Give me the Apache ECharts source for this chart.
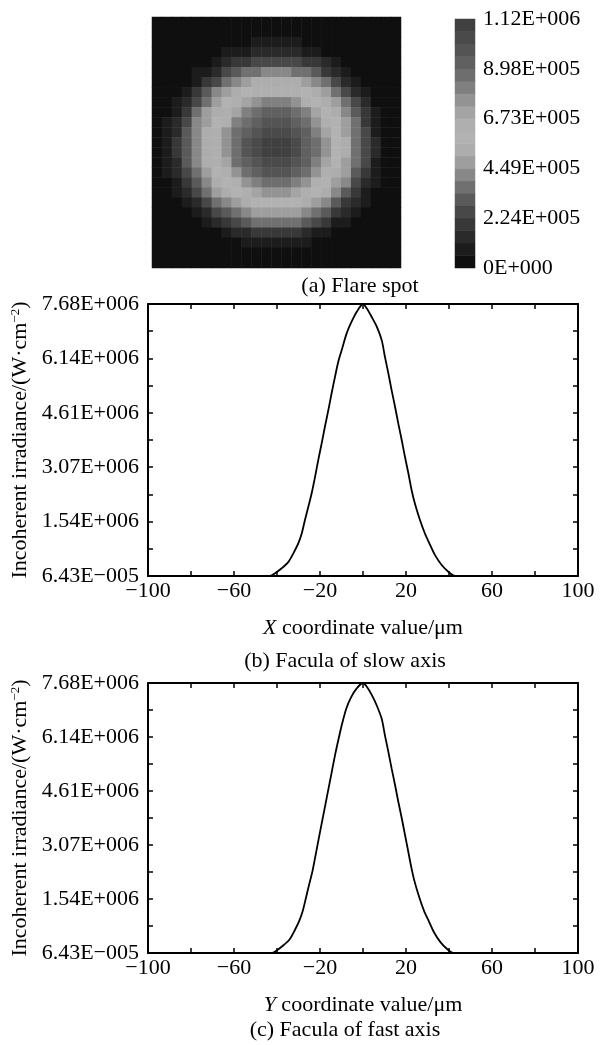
<!DOCTYPE html>
<html>
<head>
<meta charset="utf-8">
<style>
html, body { margin: 0; padding: 0; background: #fff; }
#main { width: 608px; height: 1045px; }
</style>
<script src="https://cdn.jsdelivr.net/npm/echarts@6/dist/echarts.min.js"></script>
</head>
<body>
<div id="main"></div>
<script>
// (a) flare spot, irradiance in 1E+004 W/cm2, rows from top to bottom
var spotRows = [
  [0,0,0,0,0,0,0,1,1,1,1,1,1,1,1,1,1,1,0,0,0,0,0,0,0],
  [0,0,0,0,0,0,1,1,2,2,3,3,3,3,3,2,2,1,1,0,0,0,0,0,0],
  [0,0,0,0,1,1,2,3,4,5,6,7,7,7,6,5,4,3,2,1,1,0,0,0,0],
  [0,0,0,1,2,3,3,6,8,11,14,15,16,15,14,10,8,5,3,2,1,1,0,0,0],
  [0,0,1,2,3,5,8,13,18,22,25,27,27,27,25,21,17,12,8,4,3,1,1,0,0],
  [0,1,2,3,6,10,16,23,30,35,38,40,41,40,38,34,28,22,15,9,4,2,1,0,0],
  [1,1,3,5,11,19,27,35,42,48,52,54,54,54,51,47,41,34,25,16,9,4,2,1,0],
  [1,2,5,10,20,30,40,48,54,59,63,65,66,65,63,59,53,46,37,27,16,8,3,2,1],
  [2,3,8,16,27,38,48,56,62,68,75,79,81,79,74,67,61,54,45,35,23,12,5,2,1],
  [2,5,11,22,34,45,54,62,70,80,86,90,91,90,86,79,68,60,52,41,29,17,7,3,1],
  [2,6,14,26,40,50,59,67,80,88,94,97,98,97,93,87,77,65,56,46,34,21,10,4,2],
  [3,7,16,29,42,53,62,73,85,93,99,103,105,103,99,92,83,70,60,49,38,24,11,4,2],
  [3,8,18,31,43,54,63,76,88,96,102,107,110,107,102,95,86,73,61,51,39,25,12,5,2],
  [3,8,18,31,43,54,63,76,88,96,102,107,112,107,102,95,86,73,61,51,39,25,12,5,2],
  [3,7,16,29,41,52,62,72,84,93,98,103,104,102,98,92,82,69,59,49,37,23,11,4,2],
  [2,6,13,25,38,49,58,66,78,86,92,96,97,96,92,85,75,64,55,45,33,20,9,4,2],
  [2,4,10,20,32,42,52,60,67,77,83,87,88,87,83,75,65,59,50,40,27,15,7,3,1],
  [1,3,6,13,24,35,45,53,59,64,69,73,74,73,68,63,58,51,42,32,20,10,4,2,1],
  [1,2,4,8,16,26,35,43,50,55,59,60,61,60,58,54,49,41,33,22,12,6,3,1,0],
  [0,1,2,4,9,15,24,32,39,43,47,49,50,49,47,43,37,30,21,12,7,3,2,1,0],
  [0,0,1,2,4,8,12,19,25,30,34,36,37,36,34,29,24,17,11,6,3,2,1,0,0],
  [0,0,0,1,2,3,5,9,12,16,19,21,22,21,19,15,11,8,5,3,2,1,0,0,0],
  [0,0,0,0,1,2,2,3,5,6,8,9,9,9,8,6,4,3,2,1,1,0,0,0,0],
  [0,0,0,0,0,0,1,1,2,2,3,3,3,3,3,2,2,1,1,0,0,0,0,0,0],
  [0,0,0,0,0,0,0,1,1,1,1,1,1,1,1,1,1,1,0,0,0,0,0,0,0]
];

// colour bar: 20 grey bands from 0 to 112 (x1E+004), bottom to top
var bandColors = ['#0f0f0f','#1c1c1c','#2a2a2a','#383838','#484848','#5a5a5a','#707070','#888888','#9e9e9e','#adadad',
                  '#b2b2b2','#afafaf','#a4a4a4','#939393','#808080','#6e6e6e','#606060','#545454','#4a4a4a','#404040'];
var bandStep = 5.6;
var cbLabels = ['0E+000', '2.24E+005', '4.49E+005', '6.73E+005', '8.98E+005', '1.12E+006'];

// (b), (c) irradiance profiles, y in 1E+006 W/cm2
var irrLabels = ['6.43E\u2212005', '1.54E+006', '3.07E+006', '4.61E+006', '6.14E+006', '7.68E+006'];
var xLabels = ['\u2212100', '\u221260', '\u221220', '20', '60', '100'];

var slowX = [-100, -43.2, -40.9, -37.8, -34.7, -32.4, -30.1, -28.5, -27.0, -25.4, -23.9, -22.3, -20.8, -19.2, -17.7, -16.1,
             -14.6, -13.0, -11.5, -9.9, -7.6, -5.3, -2.9, 0, 1.7, 4.0, 6.4, 8.7, 10.2, 11.8, 13.3, 14.9, 16.4, 18.0, 19.5,
             21.1, 22.6, 24.2, 26.5, 28.8, 31.2, 33.5, 36.6, 39.7, 42.8, 100];
var slowY = [0, 0, 0.08, 0.22, 0.40, 0.64, 0.92, 1.20, 1.58, 1.96, 2.33, 2.80, 3.28, 3.75, 4.22, 4.69,
             5.16, 5.63, 6.05, 6.38, 6.85, 7.18, 7.46, 7.68, 7.56, 7.32, 7.04, 6.66, 6.19, 5.72, 5.25, 4.78, 4.31, 3.84, 3.37,
             2.90, 2.43, 2.03, 1.58, 1.20, 0.88, 0.59, 0.31, 0.12, 0, 0];

var fastX = [-100, -42.5, -40.0, -37.0, -34.0, -31.8, -29.6, -28.0, -26.5, -25.0, -23.5, -22.0, -20.5, -19.0, -17.5, -16.0,
             -14.5, -13.0, -11.5, -10.0, -7.8, -5.5, -3.0, 0, 1.7, 4.0, 6.4, 8.7, 10.2, 11.8, 13.3, 14.9, 16.4, 18.0, 19.5,
             21.0, 22.5, 24.0, 26.2, 28.4, 30.8, 33.0, 36.0, 39.0, 42.0, 100];
var fastY = [0, 0, 0.08, 0.22, 0.40, 0.64, 0.92, 1.20, 1.58, 1.96, 2.33, 2.80, 3.28, 3.75, 4.22, 4.69,
             5.16, 5.63, 6.05, 6.45, 6.95, 7.28, 7.52, 7.68, 7.58, 7.35, 7.04, 6.66, 6.19, 5.72, 5.25, 4.78, 4.31, 3.84, 3.37,
             2.90, 2.43, 2.03, 1.58, 1.20, 0.88, 0.59, 0.31, 0.12, 0, 0];

var FONT = 'Liberation Serif';
var lbl = { fontFamily: FONT, fontSize: 22, color: '#000' };
var black = { color: '#000', width: 2 };

var spotData = [];
spotRows.forEach(function (row, r) {
  row.forEach(function (v, c) { spotData.push([c, r, v]); });
});
var barData = bandColors.map(function (c, i) { return [0, i, (i + 0.5) * bandStep]; });
var pieces = bandColors.map(function (c, i) {
  var p = { color: c };
  if (i > 0) p.gte = i * bandStep;
  if (i < bandColors.length - 1) p.lt = (i + 1) * bandStep;
  return p;
});

function pairs(xs, ys) {
  return xs.map(function (x, i) { return [x, ys[i] * 1e6]; });
}

function xAx(grid, pos, withLabels, name) {
  return {
    type: 'value', gridIndex: grid, position: pos, min: -100, max: 100, interval: 40,
    axisLine: { onZero: false, lineStyle: black },
    axisTick: { inside: true, length: 5, lineStyle: { color: '#000', width: 1.5 } },
    minorTick: { show: true, splitNumber: 2, length: 5, lineStyle: { color: '#000', width: 1.5 } },
    splitLine: { show: false },
    axisLabel: withLabels ? Object.assign({ margin: 4, formatter: function (v) { return xLabels[Math.round((v + 100) / 40)]; } }, lbl) : { show: false },
    name: withLabels ? name : '',
    nameLocation: 'middle', nameGap: 41,
    nameTextStyle: Object.assign({ rich: { i: { fontFamily: FONT, fontSize: 22, fontStyle: 'italic' } } }, lbl)
  };
}

function yAx(grid, pos, withLabels) {
  return {
    type: 'value', gridIndex: grid, position: pos, min: 0, max: 7680000, interval: 1536000,
    axisLine: { onZero: false, lineStyle: black },
    axisTick: { inside: true, length: 5, lineStyle: { color: '#000', width: 1.5 } },
    minorTick: { show: true, splitNumber: 2, length: 5, lineStyle: { color: '#000', width: 1.5 } },
    splitLine: { show: false },
    axisLabel: withLabels ? Object.assign({ margin: 9, formatter: function (v) { return irrLabels[Math.round(v / 1536000)]; } }, lbl) : { show: false },
    name: withLabels ? 'Incoherent irradiance/(W\u00b7cm{sup|\u22122})' : '',
    nameLocation: 'middle', nameGap: 117,
    nameTextStyle: Object.assign({ rich: { sup: { fontFamily: FONT, fontSize: 13, verticalAlign: 'top', lineHeight: 14, padding: [0, 0, 9, 0] } } }, lbl)
  };
}

var capFont = '22px "Liberation Serif"';

var chart = echarts.init(document.getElementById('main'));
chart.setOption({
  backgroundColor: '#fff',
  animation: false,
  grid: [
    { left: 152, top: 17, width: 249, height: 251 },
    { left: 455, top: 19, width: 20, height: 249 },
    { left: 148, top: 304, width: 430, height: 272 },
    { left: 148, top: 683, width: 430, height: 270 }
  ],
  xAxis: [
    { type: 'category', gridIndex: 0, data: spotRows[0].map(function (v, i) { return i; }), show: false },
    { type: 'category', gridIndex: 1, data: [0], show: false },
    xAx(2, 'bottom', true, '{i|X} coordinate value/\u03bcm'),
    xAx(2, 'top', false),
    xAx(3, 'bottom', true, '{i|Y} coordinate value/\u03bcm'),
    xAx(3, 'top', false)
  ],
  yAxis: [
    { type: 'category', gridIndex: 0, data: spotRows.map(function (v, i) { return i; }), inverse: true, show: false },
    { type: 'category', gridIndex: 1, data: bandColors.map(function (v, i) { return i; }), show: false },
    {
      type: 'value', gridIndex: 1, position: 'right', min: 0, max: 5, interval: 1,
      axisLine: { show: false }, axisTick: { show: false }, splitLine: { show: false },
      axisLabel: Object.assign({ margin: 8, formatter: function (v) { return cbLabels[v]; } }, lbl)
    },
    yAx(2, 'left', true),
    yAx(2, 'right', false),
    yAx(3, 'left', true),
    yAx(3, 'right', false)
  ],
  visualMap: {
    type: 'piecewise', show: false, seriesIndex: [0, 1], dimension: 2, pieces: pieces
  },
  graphic: [
    { type: 'text', x: 360, y: 286, style: { text: '(a) Flare spot', font: capFont, fill: '#000', textAlign: 'center', textVerticalAlign: 'middle' } },
    { type: 'text', x: 345, y: 661, style: { text: '(b) Facula of slow axis', font: capFont, fill: '#000', textAlign: 'center', textVerticalAlign: 'middle' } },
    { type: 'text', x: 345, y: 1030, style: { text: '(c) Facula of fast axis', font: capFont, fill: '#000', textAlign: 'center', textVerticalAlign: 'middle' } }
  ],
  series: [
    { type: 'heatmap', xAxisIndex: 0, yAxisIndex: 0, data: spotData, emphasis: { disabled: true } },
    { type: 'heatmap', xAxisIndex: 1, yAxisIndex: 1, data: barData, emphasis: { disabled: true } },
    { type: 'line', xAxisIndex: 2, yAxisIndex: 3, data: pairs(slowX, slowY), showSymbol: false, smooth: 0.3,
      lineStyle: { color: '#000', width: 1.8 } },
    { type: 'line', xAxisIndex: 4, yAxisIndex: 5, data: pairs(fastX, fastY), showSymbol: false, smooth: 0.3,
      lineStyle: { color: '#000', width: 1.8 } }
  ]
});
</script>
</body>
</html>
